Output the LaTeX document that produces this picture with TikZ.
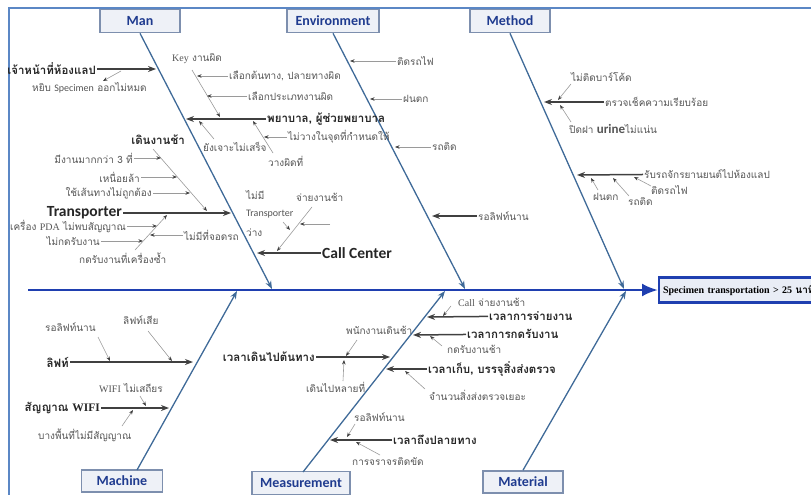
\documentclass[tikz,border=0pt]{standalone}
\usepackage{fontspec}
\usetikzlibrary{arrows.meta}
\newfontfamily\thaif[Script=Thai]{Loma}
\newfontfamily\calf{Carlito}
\newfontfamily\tmsf{Liberation Serif}
\definecolor{framec}{HTML}{5B87C5}
\definecolor{bonec}{HTML}{3F6A98}
\definecolor{spinec}{HTML}{1F3FB0}
\definecolor{catfill}{HTML}{EEF1F7}
\definecolor{catdraw}{HTML}{7D8FAE}
\definecolor{catblue}{HTML}{1F3B8F}
\definecolor{mainc}{HTML}{404040}
\definecolor{subc}{HTML}{9A9A9A}
\definecolor{txtg}{HTML}{555555}
\definecolor{headfill}{HTML}{E9EDF6}
\tikzset{
 cat/.style={draw=catdraw, line width=1.6pt, fill=catfill, text=catblue, font=\calf\bfseries\fontsize{14}{15}\selectfont, minimum height=23pt, inner sep=0pt},
 bone/.style={draw=bonec, line width=1.3pt, -{Stealth[length=8pt,width=6pt]}},
 mainarr/.style={draw=mainc, line width=1.5pt, -{Stealth[length=8pt,width=6pt]}},
 subarr/.style={draw=subc, line width=0.6pt, -{Stealth[length=4.5pt,width=3.5pt,color=mainc]}},
 ct/.style={font=\thaif\bfseries\fontsize{11.5}{13}\selectfont, text=black!85, anchor=west, inner sep=1pt},
 st/.style={font=\thaif\fontsize{10}{12}\selectfont, text=txtg, anchor=west, inner sep=1pt},
 bigt/.style={font=\calf\bfseries\fontsize{15.5}{17}\selectfont, text=black!85, anchor=west, inner sep=1pt},
}
\begin{document}
\begin{tikzpicture}[x=1pt,y=-1pt]
\useasboundingbox (0,0) rectangle (811,495);
\draw[framec, line width=1.2pt] (9,8) rectangle (840,520);
% head and spine
\node[draw=spinec, line width=2.2pt, fill=headfill, anchor=west, minimum height=25pt, text width=220pt, align=left, font=\tmsf\bfseries\fontsize{10}{11}\selectfont, inner xsep=4pt] (head) at (658,290) {Specimen transportation > 25 {\thaif นาที}};
\coordinate (sp0) at (28,290);
\draw[spinec, line width=2.6pt, -{Latex[length=16pt,width=13pt]}] (sp0) -- (head.west);
% categories
\node[cat, minimum width=80pt] (man) at (140,21) {Man};
\node[cat, minimum width=92pt] (env) at (333,21) {Environment};
\node[cat, minimum width=80pt] (meth) at (510,21) {Method};
\node[cat, minimum width=81pt, minimum height=22pt] (mach) at (122,481) {Machine};
\node[cat, minimum width=98pt] (meas) at (301,483) {Measurement};
\node[cat, minimum width=80pt, minimum height=22pt] (mat) at (523,482) {Material};
% bones
\coordinate (manE) at (272,289);
\coordinate (envE) at (465,289);
\coordinate (methE) at (624,289);
\coordinate (macS) at (137,470);
\coordinate (macE) at (237,291);
\coordinate (measS) at (303,472);
\coordinate (measE) at (445,291);
\coordinate (matE) at (626,291);
\draw[bone] (man.south) -- (manE);
\draw[bone] (env.south) -- (envE);
\draw[bone] (meth.south) -- (methE);
\draw[bone] (macS) -- (macE);
\draw[bone] (measS) -- (measE);
\draw[bone] (mat.north) -- (matE);
% ---------- Man ----------
\node[ct, anchor=east] (n1) at (97,69) {เจ้าหน้าที่ห้องแลป};
\coordinate (n1e) at (156,69);
\draw[mainarr] (n1) -- (n1e);
\node[st] (n1a) at (31,88) {หยิบ {\calf Specimen} ออกไม่หมด};
\coordinate (n1a1) at (121,71); \coordinate (n1a2) at (103,81);
\draw[subarr] (n1a1) -- (n1a2);
\node[st] (key) at (171,59) {{\tmsf Key} งานผิด};
\coordinate (k1) at (192,70); \coordinate (k2) at (220,117);
\draw[subarr] (k1) -- (k2);
\node[st] (ka) at (228,76) {เลือกต้นทาง, ปลายทางผิด};
\coordinate (kae) at (197,76);
\draw[subarr] (ka) -- (kae);
\node[st] (kb) at (247,96) {เลือกประเภทงานผิด};
\coordinate (kbe) at (207,96);
\draw[subarr] (kb) -- (kbe);
\node[ct] (nur) at (266,119) {พยาบาล, ผู้ช่วยพยาบาล};
\coordinate (nure) at (186,119);
\draw[mainarr] (nur) -- (nure);
\node[st] (nura) at (202,147) {ยังเจาะไม่เสร็จ};
\coordinate (nura1) at (214,139); \coordinate (nura2) at (199,121);
\draw[subarr] (nura1) -- (nura2);
\node[st] (nurb) at (267,161) {วางผิดที่};
\coordinate (nurb1) at (273,153); \coordinate (nurb2) at (253,121);
\draw[subarr] (nurb1) -- (nurb2);
\node[st] (nurc) at (287,137) {ไม่วางในจุดที่กำหนดให้};
\coordinate (nurce) at (264,137);
\draw[subarr] (nurc) -- (nurce);
\node[ct, anchor=east] (slow) at (186,140) {เดินงานช้า};
\coordinate (sl1) at (153,149); \coordinate (sl2) at (207,211);
\draw[subarr] (sl1) -- (sl2);
\node[st, anchor=east] (sa) at (134,158) {มีงานมากกว่า 3 ที่};
\coordinate (sae) at (161,158);
\draw[subarr] (sa) -- (sae);
\node[st, anchor=east] (sb) at (141,177) {เหนื่อยล้า};
\coordinate (sbe) at (177,177);
\draw[subarr] (sb) -- (sbe);
\node[st, anchor=east] (sc) at (153,193) {ใช้เส้นทางไม่ถูกต้อง};
\coordinate (sce) at (190,193);
\draw[subarr] (sc) -- (sce);
\node[bigt, anchor=east] (tr) at (123,213) {Transporter};
\coordinate (tre) at (231,213);
\draw[mainarr] (tr) -- (tre);
\node[st, anchor=east] (pda) at (127,226) {เครื่อง {\tmsf PDA} ไม่พบสัญญาณ};
\coordinate (pdae) at (157,226);
\draw[subarr] (pda) -- (pdae);
\node[st, anchor=east] (nak) at (101,241) {ไม่กดรับงาน};
\coordinate (nake) at (143,241);
\draw[subarr] (nak) -- (nake);
\node[st] (dup) at (78,258) {กดรับงานที่เครื่องซ้ำ};
\coordinate (dup1) at (135,250); \coordinate (dup2) at (167,215);
\draw[subarr] (dup1) -- (dup2);
\node[st] (park) at (183,235) {ไม่มีที่จอดรถ};
\coordinate (parke) at (150,235);
\draw[subarr] (park) -- (parke);
\node[st] (nt1) at (245,195) {ไม่มี};
\node[st] (nt2) at (245,214) {\calf Transporter};
\node[st] (nt3) at (245,233) {ว่าง};
\coordinate (nt1a) at (283,222); \coordinate (nt1b) at (290,230);
\draw[subarr] (nt1a) -- (nt1b);
\node[st] (pay) at (295,197) {จ่ายงานช้า};
\coordinate (pay1) at (312,207); \coordinate (pay2) at (277,251);
\draw[subarr] (pay1) -- (pay2);
\coordinate (emp1) at (330,224); \coordinate (emp2) at (300,224);
\draw[subarr] (emp1) -- (emp2);
\node[bigt] (cc) at (321,253) {Call Center};
\coordinate (cce) at (257,253);
\draw[mainarr] (cc) -- (cce);
% ---------- Environment ----------
\node[st] (e1) at (396,61) {ติดรถไฟ};
\coordinate (e1e) at (350,61);
\draw[subarr] (e1) -- (e1e);
\node[st] (e2) at (402,99) {ฝนตก};
\coordinate (e2e) at (370,99);
\draw[subarr] (e2) -- (e2e);
\node[st] (e3) at (431,147) {รถติด};
\coordinate (e3e) at (395,147);
\draw[subarr] (e3) -- (e3e);
\node[st] (e4) at (477,216) {รอลิฟท์นาน};
\coordinate (e4e) at (432,216);
\draw[mainarr] (e4) -- (e4e);
% ---------- Method ----------
\node[st] (m1) at (570,77) {ไม่ติดบาร์โค้ด};
\coordinate (m1a) at (571,84); \coordinate (m1b) at (558,100);
\draw[subarr] (m1a) -- (m1b);
\node[st] (m2) at (604,102) {ตรวจเช็คความเรียบร้อย};
\coordinate (m2e) at (544,102);
\draw[mainarr] (m2) -- (m2e);
\node[st] (m3) at (568,129) {ปิดฝา {\calf\bfseries\fontsize{13}{14}\selectfont urine}ไม่แน่น};
\coordinate (m3a) at (571,122); \coordinate (m3b) at (560,105);
\draw[subarr] (m3a) -- (m3b);
\node[st] (m4) at (643,174) {รับรถจักรยานยนต์ไปห้องแลป};
\coordinate (m4e) at (577,175);
\draw[mainarr] (m4) -- (m4e);
\node[st] (m4a) at (650,190) {ติดรถไฟ};
\coordinate (m4a1) at (651,186); \coordinate (m4a2) at (634,177);
\draw[subarr] (m4a1) -- (m4a2);
\node[st] (m4b) at (592,197) {ฝนตก};
\coordinate (m4b1) at (598,190); \coordinate (m4b2) at (591,178);
\draw[subarr] (m4b1) -- (m4b2);
\node[st] (m4c) at (627,202) {รถติด};
\coordinate (m4c1) at (629,196); \coordinate (m4c2) at (613,178);
\draw[subarr] (m4c1) -- (m4c2);
% ---------- Machine ----------
\node[st] (l1) at (44,327) {รอลิฟท์นาน};
\coordinate (l1a) at (98,337); \coordinate (l1b) at (110,361);
\draw[subarr] (l1a) -- (l1b);
\node[st] (l2) at (122,320) {ลิฟท์เสีย};
\coordinate (l2a) at (148,331); \coordinate (l2b) at (172,361);
\draw[subarr] (l2a) -- (l2b);
\node[ct, anchor=east] (lift) at (70,362) {ลิฟท์};
\coordinate (lifte) at (193,362);
\draw[mainarr] (lift) -- (lifte);
\node[st] (w1) at (98,388) {{\tmsf WIFI} ไม่เสถียร};
\coordinate (w1a) at (140,396); \coordinate (w1b) at (146,406);
\draw[subarr] (w1a) -- (w1b);
\node[ct, anchor=east] (wifi) at (101,408) {สัญญาณ {\tmsf\bfseries WIFI}};
\coordinate (wifie) at (169,408);
\draw[mainarr] (wifi) -- (wifie);
\node[st] (w2) at (37,435) {บางพื้นที่ไม่มีสัญญาณ};
\coordinate (w2a) at (122,426); \coordinate (w2b) at (133,410);
\draw[subarr] (w2a) -- (w2b);
% ---------- Measurement ----------
\node[st] (ms1) at (345,330) {พนักงานเดินช้า};
\coordinate (ms1a) at (357,340); \coordinate (ms1b) at (346,356);
\draw[subarr] (ms1a) -- (ms1b);
\node[ct, anchor=east] (walk) at (316,357) {เวลาเดินไปต้นทาง};
\coordinate (walke) at (390,357);
\draw[mainarr] (walk) -- (walke);
\node[st] (ms2) at (305,387) {เดินไปหลายที่};
\coordinate (ms2a) at (343,381); \coordinate (ms2b) at (344,360);
\draw[subarr] (ms2a) -- (ms2b);
\node[st] (ms3) at (353,417) {รอลิฟท์นาน};
\coordinate (ms3a) at (355,424); \coordinate (ms3b) at (347,437);
\draw[subarr] (ms3a) -- (ms3b);
\node[ct] (arrv) at (392,440) {เวลาถึงปลายทาง};
\coordinate (arrve) at (330,440);
\draw[mainarr] (arrv) -- (arrve);
\node[st] (ms4) at (351,462) {การจราจรติดขัด};
\coordinate (ms4a) at (380,455); \coordinate (ms4b) at (356,442);
\draw[subarr] (ms4a) -- (ms4b);
\node[st] (ms5) at (457,302) {{\tmsf Call} จ่ายงานช้า};
\coordinate (ms5a) at (451,306); \coordinate (ms5b) at (443,316);
\draw[subarr] (ms5a) -- (ms5b);
\node[ct] (disp) at (488,316) {เวลาการจ่ายงาน};
\coordinate (dispe) at (427,317);
\draw[mainarr] (disp) -- (dispe);
\node[ct] (acc) at (466,334) {เวลาการกดรับงาน};
\coordinate (acce) at (413,335);
\draw[mainarr] (acc) -- (acce);
\node[st] (ms6) at (446,349) {กดรับงานช้า};
\coordinate (ms6a) at (442,346); \coordinate (ms6b) at (430,336);
\draw[subarr] (ms6a) -- (ms6b);
\node[ct] (pack) at (427,369) {เวลาเก็บ, บรรจุสิ่งส่งตรวจ};
\coordinate (packe) at (386,369);
\draw[mainarr] (pack) -- (packe);
\node[st] (ms7) at (428,395) {จำนวนสิ่งส่งตรวจเยอะ};
\coordinate (ms7a) at (425,389); \coordinate (ms7b) at (405,371);
\draw[subarr] (ms7a) -- (ms7b);
\end{tikzpicture}
\end{document}
